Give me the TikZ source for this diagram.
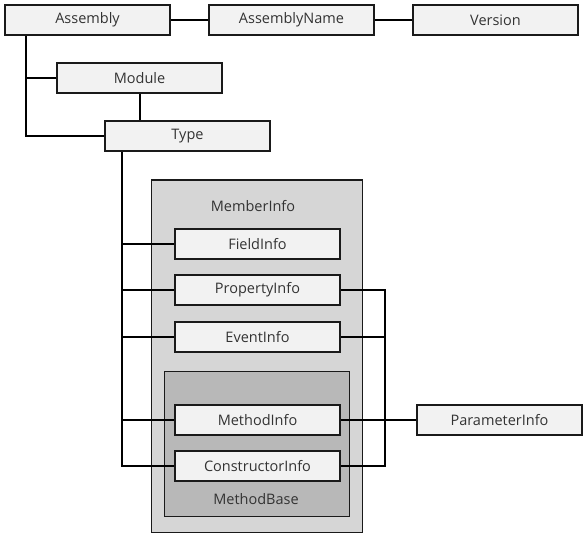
\documentclass[tikz,border=0pt]{standalone}
\usepackage{fontspec}
\setmainfont{Open Sans}
\definecolor{boxfill}{HTML}{F2F2F2}
\definecolor{outerfill}{HTML}{D6D6D6}
\definecolor{innerfill}{HTML}{B8B8B8}
\definecolor{txt}{HTML}{333333}
\definecolor{edge}{HTML}{1A1A1A}
\begin{document}
\begin{tikzpicture}[x=1pt,y=-1pt,
  cls/.style={draw=edge, line width=2pt, fill=boxfill, minimum width=165pt, minimum height=30pt,
    inner sep=0pt, anchor=north west, text=txt, font=\fontsize{14.5}{17}\selectfont},
  container/.style={draw=edge, line width=1.6pt, anchor=north west, inner sep=0pt},
  lbl/.style={text=txt, font=\fontsize{14.5}{17}\selectfont},
  link/.style={draw=black, line width=2pt}]
\useasboundingbox (0,0) rectangle (585,534);
% containers
\node[container, fill=outerfill, minimum width=211pt, minimum height=352pt] (MemberInfoBox) at (150.5,179.5) {};
\node[container, fill=innerfill, minimum width=185pt, minimum height=145pt] (MethodBaseBox) at (163.5,370.5) {};
\node[lbl] (MemberInfoLbl) at (253,206) {MemberInfo};
\node[lbl] (MethodBaseLbl) at (256,499) {MethodBase};
% class boxes
\node[cls] (Assembly) at (4,4) {Assembly};
\node[cls] (AssemblyName) at (208,4) {AssemblyName};
\node[cls] (Version) at (412,4) {Version};
\node[cls] (Module) at (56,62) {Module};
\node[cls] (Type) at (104,120) {Type};
\node[cls] (FieldInfo) at (174,228) {FieldInfo};
\node[cls] (PropertyInfo) at (174,274) {PropertyInfo};
\node[cls] (EventInfo) at (174,321) {EventInfo};
\node[cls] (MethodInfo) at (174,404) {MethodInfo};
\node[cls] (ConstructorInfo) at (174,450) {ConstructorInfo};
\node[cls] (ParameterInfo) at (416,404) {ParameterInfo};
% helper coordinates
\coordinate (a) at (26,35);
\coordinate (t) at (122,152);
\coordinate (r) at (385,289);
% connectors
\draw[link] (Assembly.east) -- (AssemblyName.west);
\draw[link] (AssemblyName.east) -- (Version.west);
\draw[link] (a |- Assembly.south) |- (Type.west);
\draw[link] (Module.west) -- (Module.west -| a);
\draw[link] (Module.south) -- (Module.south |- Type.north);
\draw[link] (t |- Type.south) |- (ConstructorInfo.west);
\draw[link] (FieldInfo.west) -- (FieldInfo.west -| t);
\draw[link] (PropertyInfo.west) -- (PropertyInfo.west -| t);
\draw[link] (EventInfo.west) -- (EventInfo.west -| t);
\draw[link] (MethodInfo.west) -- (MethodInfo.west -| t);
\draw[link] (PropertyInfo.east) -| (r |- ConstructorInfo.east) -- (ConstructorInfo.east);
\draw[link] (EventInfo.east) -- (EventInfo.east -| r);
\draw[link] (MethodInfo.east) -- (ParameterInfo.west);
\end{tikzpicture}
\end{document}
